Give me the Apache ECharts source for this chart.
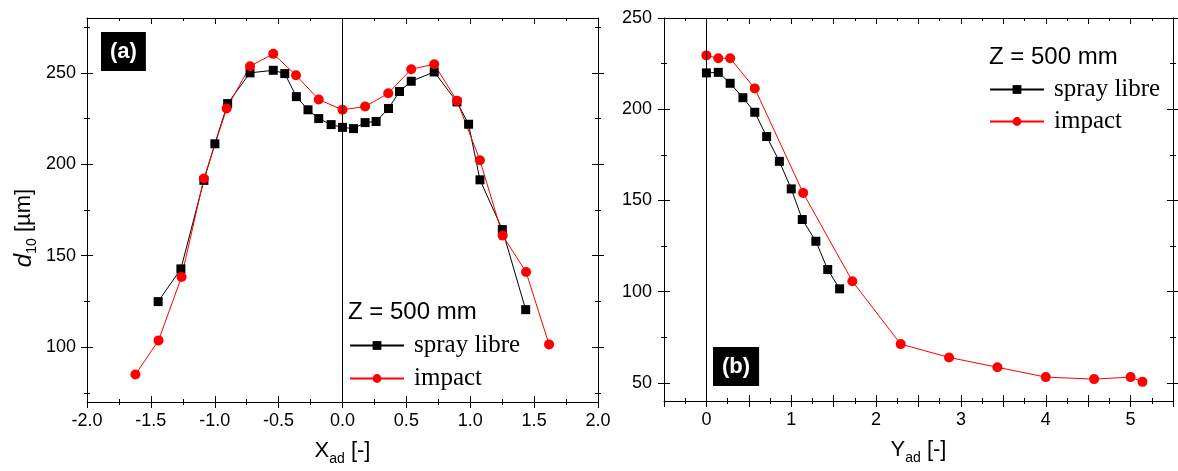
<!DOCTYPE html>
<html>
<head>
<meta charset="utf-8">
<script src="https://cdn.jsdelivr.net/npm/echarts@6/dist/echarts.min.js"></script>
<style>
html,body{margin:0;padding:0;background:#fff;}
#chart{width:1178px;height:471px;}
</style>
</head>
<body>
<div id="chart"></div>
<script>
// ---------- DATA ----------
// Panel (a): d10 vs X_ad
const xA_spray = [-1.443, -1.265, -1.085, -0.999, -0.899, -0.724, -0.542, -0.452, -0.361, -0.270, -0.186, -0.089, 0, 0.086, 0.177, 0.263, 0.360, 0.446, 0.538, 0.718, 0.896, 0.987, 1.076, 1.251, 1.434];
const yA_spray = [124.9, 142.8, 191.2, 211.2, 233.2, 250.0, 251.4, 249.6, 237.0, 229.8, 225.0, 221.7, 220.2, 219.5, 222.8, 223.4, 230.5, 239.8, 245.4, 250.5, 234.1, 221.9, 191.5, 164.3, 120.5];
const xA_impact = [-1.621, -1.440, -1.260, -1.085, -0.907, -0.724, -0.542, -0.364, -0.186, 0, 0.177, 0.358, 0.538, 0.718, 0.896, 1.076, 1.254, 1.437, 1.617];
const yA_impact = [85.0, 103.7, 138.4, 192.2, 230.5, 253.6, 260.4, 248.7, 235.4, 229.8, 231.6, 238.8, 252.0, 254.7, 234.8, 202.2, 161.0, 141.1, 101.5];
// Panel (b): d10 vs Y_ad
const xB_spray = [0, 0.14, 0.28, 0.43, 0.57, 0.71, 0.86, 1.0, 1.13, 1.29, 1.43, 1.57];
const yB_spray = [219.9, 220.2, 214.2, 206.3, 198.3, 185.0, 171.4, 156.3, 139.5, 127.6, 112.1, 101.5];
const xB_impact = [0, 0.14, 0.28, 0.57, 1.14, 1.72, 2.29, 2.86, 3.43, 4.0, 4.57, 5.0, 5.14];
const yB_impact = [229.5, 227.9, 227.9, 211.4, 154.1, 105.7, 71.2, 63.9, 58.5, 53.1, 52.0, 53.1, 50.5];

// Axis ranges and ticks
const xRangeA = [-2, 2];
const yRangeA = [70, 280];
const xLabelsA = [-2, -1.5, -1, -0.5, 0, 0.5, 1, 1.5, 2];
const xMinorA = [-1.75, -1.25, -0.75, -0.25, 0.25, 0.75, 1.25, 1.75];
const yLabelsA = [100, 150, 200, 250];
const yMinorA = [75, 125, 175, 225, 275];

const xRangeB = [-0.5, 5.5];
const yRangeB = [40, 250];
const xLabelsB = [0, 1, 2, 3, 4, 5];
const xMajorB = [-0.5, 0, 0.5, 1, 1.5, 2, 2.5, 3, 3.5, 4, 4.5, 5, 5.5];
const xMinorB = [-0.25, 0.25, 0.75, 1.25, 1.75, 2.25, 2.75, 3.25, 3.75, 4.25, 4.75, 5.25];
const yLabelsB = [50, 100, 150, 200, 250];
const yMinorB = [75, 125, 175, 225];

const ZERO_LINE = 0;
const SERIES_NAMES = ['spray libre', 'impact'];
const LEGEND_TITLE = 'Z = 500 mm';
const PANEL_LABELS = ['(a)', '(b)'];

// ---------- STYLE ----------
const SANS = 'Liberation Sans, Arial, sans-serif';
const SERIF = 'Liberation Serif, Times New Roman, serif';
const AX = '#000';

function sideAxes(gi, range, pos, major, minor, opt) {
  opt = opt || {};
  const base = () => ({
    type: 'value', gridIndex: gi, min: range[0], max: range[1], position: pos,
    splitLine: {show: false}, axisLine: {show: false, onZero: false},
    axisLabel: {show: false}, axisTick: {show: false}, minorTick: {show: false},
    silent: true
  });
  const mk = (vals, len, inside) => {
    const a = base();
    a.axisTick = {show: true, inside: inside, length: len, customValues: vals, lineStyle: {color: AX, width: 1}};
    return a;
  };
  const main = base();
  main.axisLine = {show: true, onZero: false, lineStyle: {color: AX, width: 1}};
  if (opt.labels) {
    main.axisLabel = {
      show: true, customValues: opt.labels, formatter: opt.formatter,
      margin: opt.margin, color: '#000', fontFamily: SANS, fontSize: 18
    };
  }
  if (opt.name) {
    main.name = opt.name;
    main.nameLocation = 'middle';
    main.nameGap = opt.nameGap;
    if (opt.nameRotate !== undefined) main.nameRotate = opt.nameRotate;
    main.nameTextStyle = opt.nameTextStyle;
  }
  const axes = [main];
  if (opt.out !== false) { axes.push(mk(major, 6, false)); axes.push(mk(minor, 3, false)); }
  axes.push(mk(major, 6, true)); axes.push(mk(minor, 3, true));
  return axes;
}

const subRich = {
  n: {fontFamily: SANS, fontSize: 22, color: '#000', lineHeight: 30, verticalAlign: 'middle'},
  i: {fontFamily: SANS, fontSize: 24, fontStyle: 'italic', color: '#000', lineHeight: 30, verticalAlign: 'middle'},
  s: {fontFamily: SANS, fontSize: 14, color: '#000', lineHeight: 14, verticalAlign: 'bottom'}
};

const xAxes = [];
const yAxes = [];
function addX(list) { const idx = xAxes.length; list.forEach(a => xAxes.push(a)); return idx; }
function addY(list) { const idx = yAxes.length; list.forEach(a => yAxes.push(a)); return idx; }

const allXA = xLabelsA;
const xiA = addX(sideAxes(0, xRangeA, 'bottom', allXA, xMinorA, {
  labels: xLabelsA, formatter: v => Number(v).toFixed(1), margin: 10,
  name: '{n|X}{s|ad}{n| [-]}', nameGap: 34,
  nameTextStyle: {rich: subRich}
}));
addX(sideAxes(0, xRangeA, 'top', allXA, xMinorA, {out: false}));
const yiA = addY(sideAxes(0, yRangeA, 'left', yLabelsA, yMinorA, {
  labels: yLabelsA, formatter: v => String(v), margin: 11,
  name: '{i|d}{s|10}{n| [µm]}', nameGap: 48, nameRotate: 90,
  nameTextStyle: {rich: subRich, padding: [0, 36, 0, 0]}
}));
addY(sideAxes(0, yRangeA, 'right', yLabelsA, yMinorA, {}));

const xiB = addX(sideAxes(1, xRangeB, 'bottom', xMajorB, xMinorB, {
  labels: xLabelsB, formatter: v => String(v), margin: 10,
  name: '{n|Y}{s|ad}{n| [-]}', nameGap: 34,
  nameTextStyle: {rich: subRich}
}));
addX(sideAxes(1, xRangeB, 'top', xMajorB, xMinorB, {out: false}));
const yiB = addY(sideAxes(1, yRangeB, 'left', yLabelsB, yMinorB, {
  labels: yLabelsB, formatter: v => String(v), margin: 12
}));
addY(sideAxes(1, yRangeB, 'right', yLabelsB, yMinorB, {}));

const pairs = (xs, ys) => xs.map((x, i) => [x, ys[i]]);
const zeroLine = {
  silent: true, symbol: ['none', 'none'], label: {show: false},
  lineStyle: {color: '#000', width: 1, type: 'solid'},
  emphasis: {disabled: true},
  data: [{xAxis: ZERO_LINE}]
};
const sprayStyle = {
  type: 'line', name: SERIES_NAMES[0], symbol: 'rect', symbolSize: 9,
  itemStyle: {color: '#000'}, lineStyle: {color: '#000', width: 1},
  animation: false
};
const impactStyle = {
  type: 'line', name: SERIES_NAMES[1], symbol: 'circle', symbolSize: 10,
  itemStyle: {color: '#ff0000'}, lineStyle: {color: '#ff0000', width: 1},
  animation: false
};

const series = [
  Object.assign({}, sprayStyle, {xAxisIndex: xiA, yAxisIndex: yiA, data: pairs(xA_spray, yA_spray), markLine: zeroLine}),
  Object.assign({}, impactStyle, {xAxisIndex: xiA, yAxisIndex: yiA, data: pairs(xA_impact, yA_impact)}),
  Object.assign({}, sprayStyle, {xAxisIndex: xiB, yAxisIndex: yiB, data: pairs(xB_spray, yB_spray), markLine: zeroLine}),
  Object.assign({}, impactStyle, {xAxisIndex: xiB, yAxisIndex: yiB, data: pairs(xB_impact, yB_impact)})
];

const panelLabel = (text, left, top) => ({
  text: text, left: left, top: top, backgroundColor: '#000', padding: [6, 9],
  textStyle: {color: '#fff', fontSize: 22, fontWeight: 'bold', fontFamily: SANS, lineHeight: 27}
});
const zTitle = (left, top) => ({
  text: LEGEND_TITLE, left: left, top: top, padding: 0,
  textStyle: {color: '#000', fontSize: 24, fontWeight: 'normal', fontFamily: SANS, lineHeight: 24}
});
const legendAt = (left, top, gap) => ({
  data: SERIES_NAMES, orient: 'vertical', left: left, top: top, padding: 0,
  itemWidth: 54, itemHeight: 11, itemGap: gap, selectedMode: false,
  textStyle: {fontFamily: SERIF, fontSize: 25, color: '#000', lineHeight: 24, padding: [0, 0, 0, 5]}
});

const option = {
  animation: false,
  backgroundColor: '#fff',
  grid: [
    {left: 87, top: 18, width: 511, height: 384},
    {left: 664, top: 18, width: 509, height: 383}
  ],
  title: [
    panelLabel(PANEL_LABELS[0], 101, 32),
    panelLabel(PANEL_LABELS[1], 713, 347),
    zTitle(348, 300),
    zTitle(989, 45)
  ],
  legend: [legendAt(349, 333, 8), legendAt(989, 77, 7)],
  xAxis: xAxes,
  yAxis: yAxes,
  series: series
};

const chart = echarts.init(document.getElementById('chart'), null, {renderer: 'canvas'});
chart.setOption(option);
</script>
</body>
</html>
